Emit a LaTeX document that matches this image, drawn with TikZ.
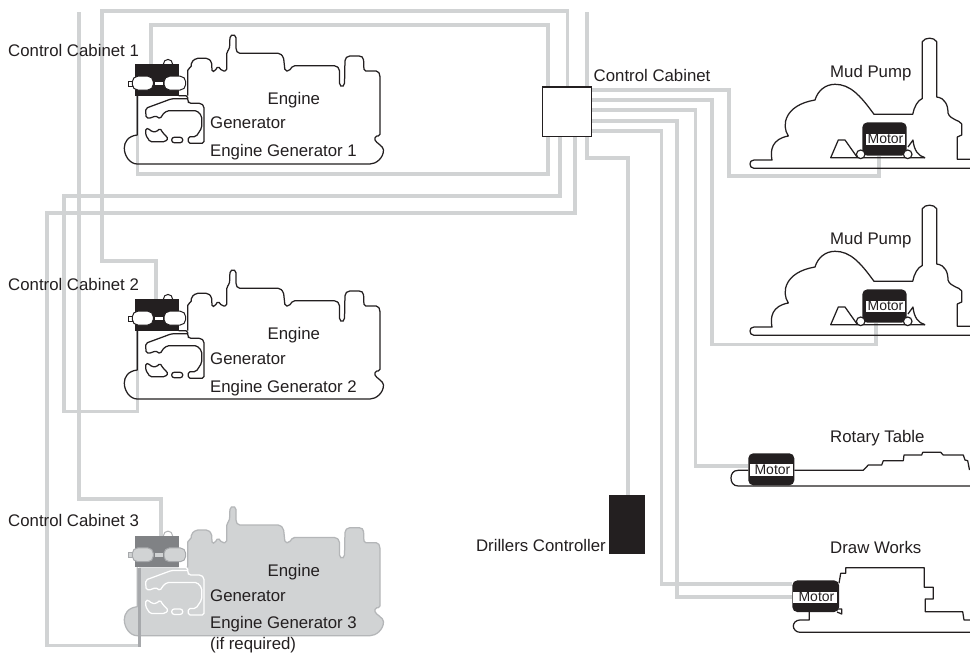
\documentclass[tikz,border=0pt]{standalone}
\usepackage{fontspec}
\setmainfont{Liberation Sans}
\definecolor{wiregray}{HTML}{D1D3D4}
\definecolor{ink}{HTML}{231F20}
\definecolor{cabgray}{HTML}{808285}
\definecolor{midgray}{HTML}{A7A9AC}
\pgfdeclarelayer{paper}
\pgfdeclarelayer{wires}
\pgfsetlayers{paper,wires,main}
\tikzset{
  wire/.style={draw=wiregray,line width=3.3pt,line join=miter},
  shape line/.style={draw=ink,line width=1.25pt,line join=round},
  lbl/.style={anchor=base west,inner sep=0pt,text=ink,font=\fontsize{16.8}{20}\selectfont},
  blackbox/.style={fill=ink,draw=none,inner sep=0pt,rectangle},
  motorbody/.style={fill=ink,draw=none,inner sep=0pt,rectangle,rounded corners=5pt,minimum width=#1},
  motorlabel/.style={fill=white,draw=none,inner sep=0pt,text=ink,font=\fontsize{14}{16}\selectfont,minimum height=11.4pt,minimum width=#1},
}
\newcommand{\egupper}{(375,140) [rounded corners=1.8pt] -- (375,136) -- (380,136) -- (380,75) -- (378,71) -- (364,71) -- (363.5,58) -- (361,56) -- (348,56) -- (345,59) -- (344.5,85) -- (342,87) -- (339.5,85) -- (339.5,69) -- (336,65.7) -- (293,65.7) -- (289,71) -- (285,71) -- (283.5,57) -- (280,53.3) -- (238,53.3) -- (236,50) -- (236,36) -- (233,34.3) -- (230,36) -- (229.5,49) -- (226.7,52) -- (226.7,71) -- (222,71) -- (218,66) -- (215,71) -- (212,72) -- (211.7,62) -- (208,58.3) -- (196,58.3) -- (191.5,62) -- (191,68) -- (187.7,68.5) -- (187.7,95.7)}
\newcommand{\eglower}{(137.3,95.7) -- (137.3,135) .. controls (128,136) and (124.3,142) .. (124.3,148) .. controls (124.3,156) and (130,164) .. (137.3,164) -- (370,164) .. controls (376,164) and (383.5,158) .. (383.5,150) .. controls (383.5,146) and (376,143) .. }
% #1 dy, #2 name, #3 silhouette fill, #4 outline, #5 generator line, #6 cabinet, #7 pill fill, #8 pill line
\newcommand{\enginegen}[8]{%
\begin{scope}[shift={(0,#1)}]
  \path[fill=#3] \eglower \egupper -- cycle;
  \draw[shape line,draw=#4] \eglower \egupper;
  \draw[shape line,draw=#5,rounded corners=1.8pt] (178.5,95.7) -- (187.7,95.7) -- (187.7,101) -- (189,103.3) -- (201,103.3) -- (204,106) -- (204,143.3) -- (188.3,143.3) -- (188.3,136.7) -- (196,136.7) -- (201.7,128) -- (201.7,116) -- (197,110.7) -- (167,110.7) -- (162,115) -- (160.5,119) -- (155,115.5) -- (152,118) -- (146,118) -- (145.7,108.3) -- (171.7,98.7) -- (187.7,98.7);
  \draw[shape line,draw=#5,rounded corners=1.5pt] (145.7,128.5) -- (145.7,135) -- (150,141.7) -- (165,141.7) -- (168.3,138.5) -- (163,133) -- (160,128.3) -- (156.7,131.7) -- (151.7,131.7) -- (148.5,128.5) -- cycle;
  \draw[shape line,draw=#5,rounded corners=2.5pt] (171.7,137.3) rectangle (182.7,142.7);
  \draw[fill=white,draw=#4,line width=1pt] (168,64) circle (4.6);
  \node[blackbox,fill=#6,minimum width=43.5pt,minimum height=31.7pt] (#2) at (156.75,79.85) {};
  \draw[fill=#7,draw=#8,line width=1pt] (128.3,81) rectangle (132,86);
  \draw[fill=#7,draw=#8,line width=1pt,rounded corners=5.5pt] (132.3,76.2) rectangle (153.3,90);
  \draw[fill=#7,draw=#8,line width=1pt,rounded corners=5.5pt] (164,76.2) rectangle (185.7,90);
  \path[fill=#7] (155,81.7) rectangle (163,85);
\end{scope}}
% #1 dy, #2 motor name
\newcommand{\mudpump}[2]{%
\begin{scope}[shift={(0,#1)}]
  \draw[shape line] (970,168.3) -- (754,168.3) .. controls (751,168.3) and (750,166) .. (750,164) .. controls (750,162) and (751,160) .. (754,160) -- (772,160) .. controls (770,150) and (772,139) .. (788.3,136) .. controls (781,125) and (785,105) .. (815,100) .. controls (818,90) and (826,84.3) .. (835,84.3) .. controls (850,84.3) and (860,95) .. (874,114.3) -- (912.7,114.3) .. controls (914,107) and (918,100) .. (922.3,98.5) -- (922.3,41.7) .. controls (925,37) and (934,37) .. (936.7,41.7) -- (936.7,97) .. controls (945,98) and (948,105) .. (948,113) .. controls (950,120) and (960,120) .. (961.7,124) -- (961.7,135) -- (957.3,137) -- (957.3,159.3) -- (970,159.3);
  \draw[shape line] (925,157.7) -- (830.7,157.7) -- (838.3,140) -- (845,140) -- (857,157);
  \draw[shape line] (908,147) -- (913,140) .. controls (914,150) and (918,156) .. (925,157.7);
  \node[motorbody=44.4pt,minimum height=33.3pt] (#2) at (884.5,139) {};
  \node[motorlabel=39pt] (#2label) at (885.5,139.2) {Motor};
  \draw[fill=white,draw=ink,line width=1.2pt] (860.7,154.3) circle (4.3);
  \draw[fill=white,draw=ink,line width=1.2pt] (907.7,154.3) circle (4.3);
\end{scope}}
\begin{document}
\begin{tikzpicture}[x=1pt,y=-1pt]
\useasboundingbox (0,0) rectangle (970,654);
\begin{pgfonlayer}{paper}
\fill[white] (0,0) rectangle (970,654);
\end{pgfonlayer}
\node[draw=ink,fill=white,line width=1.25pt,minimum width=49.5pt,minimum height=49.5pt,inner sep=0pt] (cc) at (567,111.7) {};
\node[blackbox,minimum width=35.4pt,minimum height=59pt] (dc) at (627,524.5) {};
% engine generators
\enginegen{0}{cab1}{none}{ink}{ink}{ink}{white}{ink}
\enginegen{235}{cab2}{none}{ink}{ink}{ink}{white}{ink}
\enginegen{471.7}{cab3}{wiregray}{midgray!70!wiregray}{white}{cabgray}{wiregray}{midgray}
% driven machines
\mudpump{0}{motor1}
\mudpump{167}{motor2}
% rotary table
\draw[shape line] (748.3,470.3) -- (738.3,470.3) .. controls (733,470.3) and (731,474) .. (731,478) .. controls (731,482) and (733,486) .. (738.3,486) -- (970,486);
\draw[shape line] (794.3,470.3) -- (863.3,470.3) -- (868.3,465) -- (881.7,465) -- (883.3,460.7) -- (903.3,460.7) -- (904,455) -- (921.7,455) -- (922.7,452.3) -- (940.7,452.3) -- (943.3,455) -- (963.3,455) -- (965,460) -- (967.7,460.7) -- (969.5,470);
\node[motorbody=46pt,minimum height=32pt] (motor3) at (771.3,469.3) {};
\node[motorlabel=42.7pt] (motor3label) at (771.3,470) {\,Motor};
% draw works
\draw[shape line] (809.3,612) -- (809.3,620) -- (800,620) .. controls (796,620) and (793.3,623) .. (793.3,626) .. controls (793.3,629) and (796,632.3) .. (800,632.3) -- (970,632.3);
\draw[shape line] (839,583.3) -- (840.7,573.3) -- (845.7,573.3) -- (845.7,567.7) -- (924.3,567.7) -- (924.3,587.3) -- (933.3,587.3) -- (933.3,599) -- (925.3,599) -- (925.3,611.7) -- (962.7,611.7) -- (964,620) -- (970,620);
\draw[shape line] (836,609) -- (841.7,609) -- (841.7,614) -- (837,612);
\node[motorbody=46.7pt,minimum height=31.7pt] (motor4) at (815.7,596.2) {};
\node[motorlabel=44pt] (motor4label) at (815.3,597.2) {\,Motor};
% wires behind everything
\begin{pgfonlayer}{wires}
\draw[wire] (79,12) -- (79,499) -- (161,499) -- (161,0 |- cab3.north);
\draw[wire] (156,0 |- cab2.north) -- (156,261) -- (102,261) -- (102,11) -- (567.5,11) -- (567.5,0 |- cc.north);
\draw[wire] (151,0 |- cab1.north) -- (151,25) -- (548,25) -- (548,0 |- cc.north);
\draw[wire] (137.5,0 |- cab1.south) -- (137.5,174) -- (548,174) -- (548,0 |- cc.south);
\draw[wire] (560,0 |- cc.south) -- (560,196) -- (64,196) -- (64,411.7) -- (137.5,411.7) -- (137.5,0 |- cab2.south);
\draw[wire] (575,0 |- cc.south) -- (575,213) -- (47,213) -- (47,645.7) -- (139,645.7);
\draw[wire] (587,12) -- (587,158) -- (628,158) -- (628,0 |- dc.north);
\draw[wire] (cc.east |- 0,90) -- (729,90) -- (729,176) -- (879,176) -- (879,0 |- motor1.south);
\draw[wire] (cc.east |- 0,100) -- (712,100) -- (712,344.3) -- (876,344.3) -- (876,0 |- motor2.south);
\draw[wire] (cc.east |- 0,110) -- (695.7,110) -- (695.7,466) -- (motor3.west |- 0,466);
\draw[wire] (cc.east |- 0,121) -- (677,121) -- (677,597) -- (motor4.west |- 0,597);
\draw[wire] (cc.east |- 0,131) -- (661.7,131) -- (661.7,584) -- (motor4.west |- 0,584);
\end{pgfonlayer}
\draw[wire,draw=midgray,line width=2.2pt] (139.5,0 |- cab3.south) -- (139.5,646.5);
% labels
\node[lbl] (t1) at (8,56) {Control Cabinet 1};
\node[lbl] (t2) at (8,290.7) {Control Cabinet 2};
\node[lbl] (t3) at (8,526) {Control Cabinet 3};
\node[lbl] (t4) at (267.5,104) {Engine};
\node[lbl] (t5) at (210,128.5) {Generator};
\node[lbl] (t6) at (210,156.7) {Engine Generator 1};
\node[lbl] (t7) at (267.5,339) {Engine};
\node[lbl] (t8) at (210,364) {Generator};
\node[lbl] (t9) at (210,392) {Engine Generator 2};
\node[lbl] (t10) at (267.5,576.7) {Engine};
\node[lbl] (t11) at (210,601.7) {Generator};
\node[lbl] (t12) at (210,628.3) {Engine Generator 3};
\node[lbl] (t13) at (210,649) {(if required)};
\node[lbl] (t14) at (593.5,81) {Control Cabinet};
\node[lbl] (t15) at (830,77.5) {Mud Pump};
\node[lbl] (t16) at (830,244) {Mud Pump};
\node[lbl] (t17) at (830,442.7) {Rotary Table};
\node[lbl] (t18) at (830,553.3) {Draw Works};
\node[lbl,anchor=base east] (t19) at (606,551) {Drillers Controller};
\end{tikzpicture}
\end{document}
